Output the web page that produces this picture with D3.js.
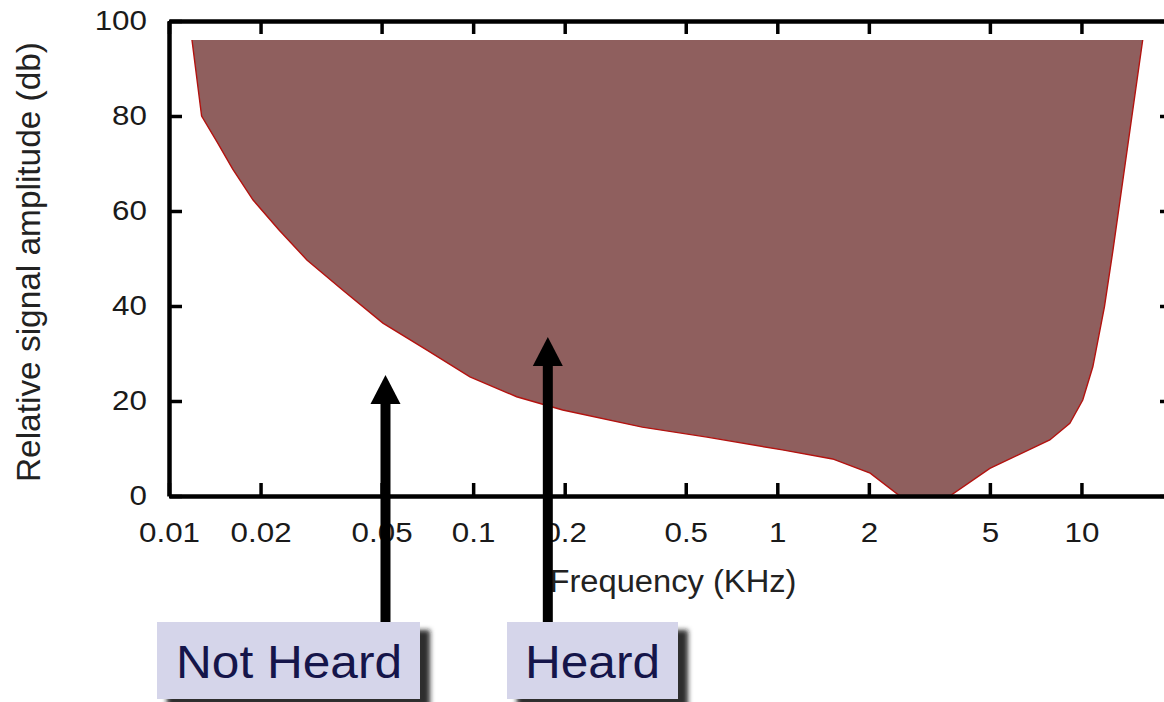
<!DOCTYPE html>
<html>
<head>
<meta charset="utf-8">
<script src="https://cdn.jsdelivr.net/npm/d3@7"></script>
<style>
  html, body { margin: 0; padding: 0; background: #ffffff; }
  svg { display: block; }
  text { font-family: "Liberation Sans", Arial, Helvetica, sans-serif; }
</style>
</head>
<body>
<svg id="chart" width="1164" height="702"></svg>
<script>
// ---- data ----
const frequencies = [0.0119, 0.0128, 0.0144, 0.0162, 0.0189, 0.0230, 0.0284, 0.0373, 0.0505, 0.0705, 0.0976, 0.139, 0.197, 0.36, 0.587, 1.04, 1.52, 2.02, 2.53, 3.69, 5.0, 7.87, 9.16, 10.1, 10.9, 11.9, 12.7, 15.9];
const thresholds  = [96, 80, 74.5, 68.8, 62.3, 56.0, 49.7, 43.3, 36.4, 30.7, 25.1, 20.9, 18.1, 14.5, 12.4, 9.7, 7.8, 4.8, 0, 0, 5.8, 11.8, 15.3, 20.2, 27.2, 39.8, 51.8, 96];
const ceilingDb = 96;
const xTickValues = [0.01, 0.02, 0.05, 0.1, 0.2, 0.5, 1, 2, 5, 10];
const yTickValues = [0, 20, 40, 60, 80, 100];
const annotationLabels = ["Not Heard", "Heard"];
const annotationFreqs = [0.0515, 0.176];
const annotationTips = [25.5, 33.5];
const xTitle = "Frequency (KHz)";
const yTitle = "Relative signal amplitude (db)";

(function () {
// ---- layout ----
const svg = d3.select("#chart");
const x = d3.scaleLog().domain([0.01, 20]).range([169, 1173]);
const y = d3.scaleLinear().domain([0, 100]).range([496, 21]);
const font = '"Liberation Sans", Arial, Helvetica, sans-serif';

const pts = frequencies.map((f, i) => ({ f, v: thresholds[i] }));

// shadow filter
const defs = svg.append("defs");
const filt = defs.append("filter").attr("id", "shadow")
  .attr("x", "-10%").attr("y", "-20%").attr("width", "130%").attr("height", "150%");
filt.append("feDropShadow").attr("dx", 10).attr("dy", 8)
  .attr("stdDeviation", 2.5).attr("flood-color", "#151515").attr("flood-opacity", 0.9);

// filled region (heard)
svg.append("path")
  .datum(pts)
  .attr("d", d3.area().x(d => x(d.f)).y0(y(ceilingDb)).y1(d => y(d.v)))
  .attr("fill", "#8f5f5e");

svg.append("path")
  .datum(pts)
  .attr("d", d3.line().x(d => x(d.f)).y(d => y(d.v)))
  .attr("fill", "none")
  .attr("stroke", "#b3120f")
  .attr("stroke-width", 1.4);

// axes frame
const frameW = 4.5;
function styleAxis(g) {
  g.select(".domain").attr("stroke", "#000").attr("stroke-width", frameW);
  g.selectAll(".tick line").attr("stroke", "#000").attr("stroke-width", 3.5);
}

const axBottom = svg.append("g").attr("transform", `translate(0,${y(0)})`)
  .call(d3.axisBottom(x).tickValues(xTickValues).tickFormat(d => String(d))
    .tickSizeInner(-13).tickSizeOuter(0).tickPadding(26));
styleAxis(axBottom);
axBottom.selectAll(".tick text")
  .attr("font-family", font).attr("font-size", 28).attr("fill", "#1a1a1a")
  .attr("transform", "scale(1.12,1)");

const axTop = svg.append("g").attr("transform", `translate(0,${y(100)})`)
  .call(d3.axisTop(x).tickValues(xTickValues).tickFormat("")
    .tickSizeInner(-13).tickSizeOuter(0));
styleAxis(axTop);

const axLeft = svg.append("g").attr("transform", `translate(${x(0.01)},0)`)
  .call(d3.axisLeft(y).tickValues(yTickValues).tickFormat(d => String(d))
    .tickSizeInner(-13).tickSizeOuter(0).tickPadding(22));
styleAxis(axLeft);
axLeft.selectAll(".tick text")
  .attr("font-family", font).attr("font-size", 28).attr("fill", "#1a1a1a")
  .each(function() {
    const t = d3.select(this);
    const xx = +t.attr("x");
    t.attr("x", 0).attr("transform", `translate(${xx},0) scale(1.12,1)`);
  });

const axRight = svg.append("g").attr("transform", `translate(${x(20)},0)`)
  .call(d3.axisRight(y).tickValues(yTickValues).tickFormat("")
    .tickSizeInner(-13).tickSizeOuter(0));
styleAxis(axRight);

// axis titles
svg.append("text")
  .attr("x", 673).attr("y", 592)
  .attr("text-anchor", "middle")
  .attr("font-size", 31).attr("fill", "#222")
  .attr("textLength", 247).attr("lengthAdjust", "spacingAndGlyphs")
  .text(xTitle);

svg.append("text")
  .attr("transform", `translate(40,262) rotate(-90)`)
  .attr("text-anchor", "middle")
  .attr("font-size", 33).attr("fill", "#222")
  .attr("textLength", 440).attr("lengthAdjust", "spacingAndGlyphs")
  .text(yTitle);

// annotations: arrows
const boxTop = 622;
annotationFreqs.forEach((f, i) => {
  const ax = x(f);
  const tip = y(annotationTips[i]);
  svg.append("line")
    .attr("x1", ax).attr("x2", ax)
    .attr("y1", tip + 20).attr("y2", boxTop + 4)
    .attr("stroke", "#000").attr("stroke-width", 10);
  svg.append("path")
    .attr("d", `M${ax},${tip} L${ax - 15},${tip + 29} L${ax + 15},${tip + 29} Z`)
    .attr("fill", "#000");
});

// annotation boxes
const boxes = [
  { x0: 157, x1: 420, tx: 176, tw: 226 },
  { x0: 507, x1: 678, tx: 525, tw: 135 }
];
annotationLabels.forEach((lab, i) => {
  const b = boxes[i];
  svg.append("rect")
    .attr("x", b.x0).attr("y", boxTop)
    .attr("width", b.x1 - b.x0).attr("height", 77)
    .attr("fill", "#d5d5ea")
    .attr("filter", "url(#shadow)");
  svg.append("text")
    .attr("x", b.tx).attr("y", 678)
    .attr("font-size", 46).attr("fill", "#15154a")
    .attr("textLength", b.tw).attr("lengthAdjust", "spacingAndGlyphs")
    .text(lab);
});
})();
</script>
</body>
</html>
